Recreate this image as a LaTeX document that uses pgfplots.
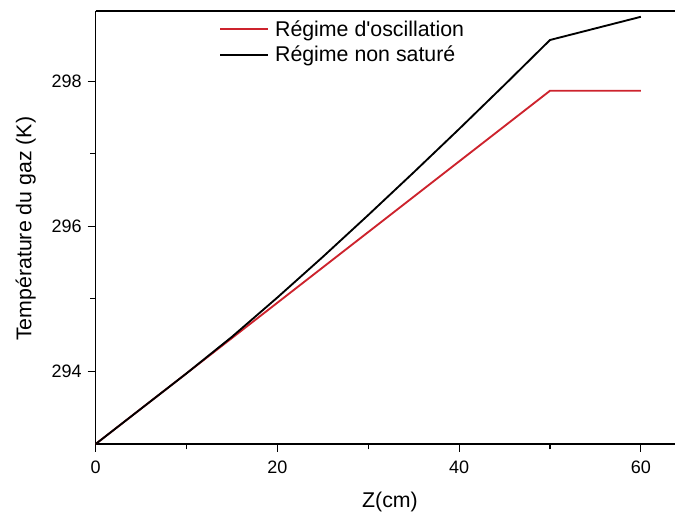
\documentclass[border=0pt]{standalone}
\usepackage{pgfplots}
\pgfplotsset{compat=1.18}
\usepackage{fontspec}
\setmainfont{Liberation Sans}
\definecolor{myred}{RGB}{205,35,45}
\begin{document}
\begin{tikzpicture}
\useasboundingbox (-71.8pt,-51pt) rectangle (434.5pt,333pt);
\begin{axis}[
  at={(0,0)}, anchor=south west,
  scale only axis,
  width=434.5pt, height=324.75pt,
  xmin=0, xmax=63.76,
  ymin=293, ymax=298.97,
  axis x line*=bottom,
  axis y line*=left,
  axis line style={line width=0.9pt, -},
  xtick={0,20,40,60},
  ytick={294,296,298},
  minor x tick num=1,
  minor y tick num=1,
  tick align=outside,
  major tick length=6pt,
  minor tick length=4pt,
  tick style={line width=0.8pt, black},
  /pgf/number format/assume math mode=true,
  /pgf/number format/1000 sep={},
  ticklabel style={font=\fontsize{13.5}{15}\selectfont},
  xticklabel style={yshift=-3pt},
  yticklabel style={xshift=-1pt},
  xlabel={Z(cm)},
  ylabel={Température du gaz (K)},
  label style={font=\fontsize{16}{19}\selectfont},
  xlabel style={at={(axis description cs:0.508,-0.134)}, anchor=center},
  ylabel style={at={(axis description cs:-0.1209,0.497)}, anchor=center},
  legend style={at={(axis description cs:0.2128,0.985)}, anchor=north west,
    draw=none, fill=none, inner sep=0pt, font=\fontsize{16}{19}\selectfont,
    row sep=2pt},
  legend cell align=left,
  legend image code/.code={\draw[#1, line width=1.4pt] (0pt,0pt) -- (36pt,0pt); \path (38.5pt,0pt);},
  clip=false,
]
\addplot[myred, line width=1.4pt] coordinates {
  (0,293) (50,297.87) (60,297.87)
};
\addlegendentry{Régime d\textquotesingle oscillation}
\addplot[black, line width=1.4pt] coordinates {
  (0,293) (5,293.487) (10,293.974) (15,294.478) (20,295.02) (25,295.58)
  (30,296.157) (35,296.745) (40,297.343) (45,297.952) (50,298.57) (60,298.89)
};
\addlegendentry{Régime non saturé}
\draw[line width=0.9pt] (rel axis cs:0,1) -- (rel axis cs:1,1);
\end{axis}
\end{tikzpicture}
\end{document}
